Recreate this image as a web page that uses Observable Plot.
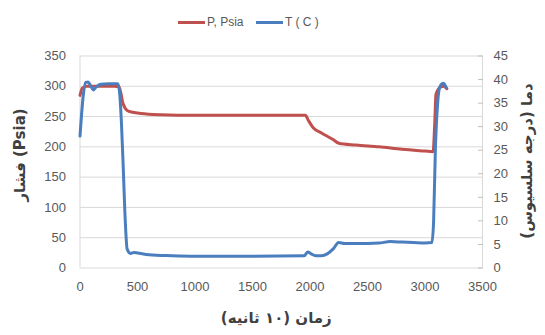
<!DOCTYPE html>
<html>
<head>
<meta charset="utf-8">
<script src="https://cdn.jsdelivr.net/npm/d3@7"></script>
<script src="https://cdn.jsdelivr.net/npm/@observablehq/plot@0.6"></script>
<style>
  html, body { margin: 0; padding: 0; background: #fff; }
  #legend { height: 40px; position: relative; font-family: "Liberation Sans", Arial, sans-serif; font-size: 12px; color: #595959; }
  #legend .item { position: absolute; top: 15px; display: flex; align-items: center; }
  #legend .sw { width: 27px; height: 3px; margin-right: 2px; }
</style>
</head>
<body>
<div id="legend"></div>
<div id="chart"></div>
<script>
// ---- data ----
const seriesNames = ["P, Psia", "T ( C )"];
const seriesColors = ["#c0504d", "#4a7ebf"];

const pTime = [0, 20, 60, 150, 300, 340, 375, 410, 460, 530, 700, 1000, 1500, 1960, 1985, 2030, 2100, 2200, 2250, 2400, 2600, 2800, 3000, 3070, 3085, 3095, 3130, 3160, 3190];
const pVal  = [285, 297, 300, 300, 300, 299, 271, 260, 257, 255, 253, 252, 252, 252, 244, 231, 223, 212, 206, 203, 200, 196, 193, 192, 240, 286, 298, 300, 296];

const tTime = [0, 30, 50, 70, 90, 115, 140, 180, 250, 330, 345, 360, 375, 390, 410, 440, 470, 500, 600, 800, 1000, 1500, 1950, 1980, 2010, 2050, 2100, 2150, 2200, 2250, 2300, 2500, 2600, 2700, 2800, 2900, 3000, 3060, 3075, 3090, 3110, 3130, 3160, 3185];
const tVal  = [28, 37, 39.4, 39.5, 38.8, 37.8, 38.4, 39.0, 39.1, 39.1, 37, 31, 22, 12, 4, 3.1, 3.3, 3.2, 2.8, 2.6, 2.5, 2.5, 2.6, 3.4, 3.0, 2.6, 2.6, 3.0, 4.0, 5.4, 5.2, 5.2, 5.3, 5.6, 5.5, 5.4, 5.3, 5.4, 10, 25, 35, 38.5, 39.2, 38.3];

const xTicks = [0, 500, 1000, 1500, 2000, 2500, 3000, 3500];
const yTicks = [0, 50, 100, 150, 200, 250, 300, 350];
const y2Ticks = [0, 5, 10, 15, 20, 25, 30, 35, 40, 45];

const yTitle = "فشار (Psia)";
const y2Title = "دما (درجه سلسیوس)";
const xTitle = "زمان (۱۰ ثانیه)";

// ---- build ----
const k = 350 / 45; // T -> P scale factor
const pData = pTime.map((t, i) => ({t, v: pVal[i]}));
const tData = tTime.map((t, i) => ({t, v: tVal[i] * k}));

const legend = document.getElementById("legend");
const lefts = [178, 256];
seriesNames.forEach((n, i) => {
  const d = document.createElement("div");
  d.className = "item";
  d.style.left = lefts[i] + "px";
  d.innerHTML = `<span class="sw" style="background:${seriesColors[i]}"></span><span>${n}</span>`;
  legend.appendChild(d);
});

const font = "'Liberation Sans', Arial, sans-serif";
const titleFont = "'DejaVu Sans', sans-serif";
const chart = Plot.plot({
  width: 545,
  height: 295,
  marginTop: 15.5,
  marginBottom: 67.5,
  marginLeft: 79.5,
  marginRight: 63,
  style: {fontFamily: font, fontSize: "13px", color: "#595959", background: "#fff"},
  x: {domain: [0, 3500]},
  y: {domain: [0, 350]},
  marks: [
    Plot.ruleY(yTicks, {stroke: "#d9d9d9", strokeWidth: 1}),
    Plot.ruleX([0], {stroke: "#d9d9d9"}),
    Plot.ruleX([3500], {stroke: "#d9d9d9"}),
    Plot.axisX(xTicks, {tickSize: 0, tickPadding: 14, tickFormat: d => String(d), label: null, fill: "#595959", fontSize: 13}),
    Plot.axisY(yTicks, {anchor: "left", tickSize: 0, tickPadding: 14, tickFormat: d => String(d), label: null, fill: "#595959", fontSize: 13}),
    Plot.axisY(y2Ticks.map(d => d * k), {anchor: "right", tickSize: 5, dx: -5, tickPadding: 11, stroke: "#bfbfbf", tickFormat: d => String(Math.round(d / k)), label: null, fill: "#595959", fontSize: 13}),
    Plot.line(pData, {x: "t", y: "v", stroke: seriesColors[0], strokeWidth: 3, curve: "monotone-x"}),
    Plot.line(tData, {x: "t", y: "v", stroke: seriesColors[1], strokeWidth: 3, curve: "monotone-x"}),
    Plot.text([yTitle], {frameAnchor: "left", textAnchor: "middle", rotate: -90, dx: -60, dy: -7, fontFamily: titleFont, fontWeight: "bold", fontSize: 15, fill: "#404040"}),
    Plot.text([y2Title], {frameAnchor: "right", textAnchor: "middle", rotate: -90, dx: 45, dy: -1, fontFamily: titleFont, fontWeight: "bold", fontSize: 15, fill: "#404040"}),
    Plot.text([xTitle], {frameAnchor: "bottom", textAnchor: "middle", dy: 55, dx: -5, fontFamily: titleFont, fontWeight: "bold", fontSize: 15, fill: "#404040"})
  ]
});
document.getElementById("chart").appendChild(chart);
</script>
</body>
</html>
